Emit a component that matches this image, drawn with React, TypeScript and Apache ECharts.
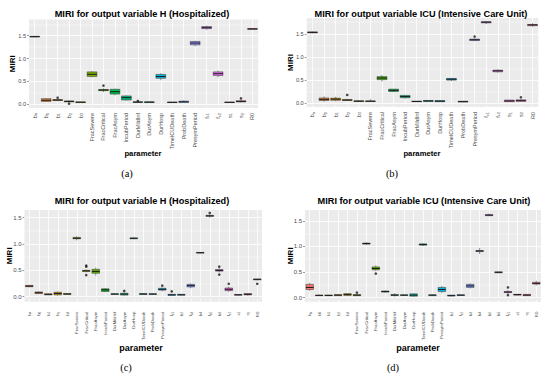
import React, { useEffect, useRef } from "react";
import * as echarts from "echarts";

// ---------- data ----------
const CATS_20 = [
  "b_a", "b_0", "b_1", "b_2", "b_3", "FracSevere", "FracCritical", "FracAsym", "IncubPeriod",
  "DurMildInf", "DurAsym", "DurHosp", "TimeICUDeath", "ProbDeath", "PresymPeriod",
  "f_c1", "f_c2", "s_1", "s_2", "R0",
];
const CATS_25 = [
  "b_a", "b_0", "b_1", "b_2", "b_3", "FracSevere", "FracCritical", "FracAsym", "IncubPeriod",
  "DurMildInf", "DurAsym", "DurHosp", "TimeICUDeath", "ProbDeath", "PresymPeriod",
  "f_c1", "f_c2", "f_c3", "f_c4", "f_c5", "f_c6", "f_c7", "s_1", "s_2", "R0",
];

// [min, Q1, median, Q3, max]
const BOX_A = [
  [1.465, 1.472, 1.48, 1.487, 1.495], [0.05, 0.065, 0.09, 0.125, 0.135], [0.07, 0.085, 0.095, 0.105, 0.12],
  [0.04, 0.055, 0.065, 0.075, 0.09], [0.035, 0.04, 0.047, 0.055, 0.06], [0.59, 0.61, 0.657, 0.71, 0.73],
  [0.27, 0.3, 0.314, 0.325, 0.35], [0.2, 0.225, 0.277, 0.33, 0.345], [0.08, 0.095, 0.146, 0.185, 0.2],
  [0.04, 0.045, 0.05, 0.055, 0.06], [0.035, 0.04, 0.05, 0.055, 0.06], [0.53, 0.57, 0.61, 0.655, 0.68],
  [0.035, 0.04, 0.045, 0.05, 0.055], [0.03, 0.045, 0.055, 0.07, 0.09], [1.27, 1.3, 1.34, 1.375, 1.39],
  [1.63, 1.655, 1.675, 1.7, 1.72], [0.59, 0.63, 0.67, 0.71, 0.74], [0.035, 0.04, 0.045, 0.05, 0.055],
  [0.04, 0.055, 0.065, 0.08, 0.1], [1.63, 1.64, 1.648, 1.655, 1.66],
];
const OUT_A = [[2, 0.146], [3, 0.015], [6, 0.41], [9, 0.075], [18, 0.13]];

const BOX_B = [
  [1.51, 1.52, 1.53, 1.54, 1.55], [0.03, 0.06, 0.085, 0.115, 0.15], [0.04, 0.065, 0.09, 0.11, 0.14],
  [0.05, 0.06, 0.07, 0.08, 0.1], [0.03, 0.04, 0.045, 0.055, 0.065], [0.03, 0.04, 0.045, 0.05, 0.09],
  [0.47, 0.51, 0.545, 0.575, 0.61], [0.24, 0.255, 0.28, 0.305, 0.31], [0.1, 0.12, 0.145, 0.17, 0.18],
  [0.03, 0.035, 0.04, 0.045, 0.05], [0.03, 0.04, 0.05, 0.06, 0.07], [0.03, 0.035, 0.045, 0.06, 0.065],
  [0.48, 0.5, 0.52, 0.535, 0.55], [0.02, 0.03, 0.035, 0.045, 0.05], [1.34, 1.355, 1.37, 1.385, 1.4],
  [1.71, 1.735, 1.75, 1.76, 1.78], [0.66, 0.68, 0.7, 0.715, 0.73], [0.03, 0.035, 0.05, 0.07, 0.075],
  [0.035, 0.045, 0.055, 0.075, 0.09], [1.65, 1.675, 1.69, 1.7, 1.73],
];
const OUT_B = [[3, 0.18], [14, 1.44], [18, 0.13]];

const BOX_C = [
  [0.18, 0.19, 0.2, 0.215, 0.225], [0.05, 0.06, 0.075, 0.09, 0.1], [0.03, 0.035, 0.045, 0.055, 0.06],
  [0.02, 0.035, 0.06, 0.085, 0.1], [0.04, 0.045, 0.05, 0.06, 0.065], [1.07, 1.1, 1.11, 1.125, 1.15],
  [0.46, 0.48, 0.49, 0.5, 0.52], [0.4, 0.445, 0.48, 0.52, 0.55], [0.085, 0.1, 0.13, 0.15, 0.16],
  [0.04, 0.045, 0.05, 0.055, 0.06], [0.02, 0.03, 0.05, 0.065, 0.08], [1.09, 1.1, 1.11, 1.115, 1.12],
  [0.035, 0.045, 0.05, 0.06, 0.065], [0.035, 0.045, 0.05, 0.055, 0.06], [0.1, 0.125, 0.14, 0.16, 0.17],
  [0.02, 0.025, 0.035, 0.045, 0.05], [0.025, 0.03, 0.035, 0.045, 0.05], [0.16, 0.185, 0.21, 0.235, 0.25],
  [0.82, 0.828, 0.835, 0.84, 0.845], [1.5, 1.525, 1.535, 1.545, 1.56], [0.46, 0.485, 0.5, 0.515, 0.54],
  [0.09, 0.115, 0.14, 0.165, 0.19], [0.025, 0.03, 0.035, 0.04, 0.045], [0.02, 0.035, 0.045, 0.06, 0.07],
  [0.31, 0.32, 0.33, 0.335, 0.34],
];
const OUT_C = [[6, 0.57], [6, 0.59], [6, 0.41], [10, 0.11], [14, 0.21], [15, 0.1], [19, 1.59], [20, 0.57], [20, 0.42], [21, 0.245], [24, 0.245]];

const BOX_D = [
  [0.13, 0.16, 0.2, 0.26, 0.29], [0.03, 0.04, 0.045, 0.05, 0.06], [0.03, 0.04, 0.045, 0.05, 0.055],
  [0.035, 0.04, 0.05, 0.06, 0.065], [0.03, 0.045, 0.06, 0.08, 0.09], [0.03, 0.04, 0.05, 0.06, 0.065],
  [1.03, 1.045, 1.055, 1.065, 1.08], [0.52, 0.545, 0.57, 0.6, 0.63], [0.1, 0.11, 0.12, 0.13, 0.14],
  [0.02, 0.045, 0.05, 0.06, 0.09], [0.04, 0.045, 0.05, 0.055, 0.065], [0.02, 0.03, 0.05, 0.075, 0.085],
  [1.01, 1.025, 1.035, 1.05, 1.06], [0.03, 0.04, 0.05, 0.055, 0.065], [0.09, 0.12, 0.16, 0.2, 0.23],
  [0.025, 0.035, 0.04, 0.05, 0.055], [0.04, 0.045, 0.05, 0.055, 0.06], [0.18, 0.2, 0.23, 0.26, 0.28],
  [0.85, 0.9, 0.91, 0.92, 0.97], [1.59, 1.6, 1.61, 1.62, 1.64], [0.48, 0.485, 0.495, 0.505, 0.51],
  [0.07, 0.1, 0.11, 0.12, 0.15], [0.045, 0.05, 0.06, 0.065, 0.07], [0.03, 0.04, 0.05, 0.065, 0.07],
  [0.24, 0.265, 0.28, 0.3, 0.33],
];
const OUT_D = [[5, 0.1], [7, 0.47], [21, 0.2], [21, 0.05]];

const Y_TICKS = [0, 0.5, 1.0, 1.5];
const Y_MINOR = [0.25, 0.75, 1.25, 1.75];
const Y_RANGE_A = [-0.079, 1.854];
const Y_RANGE_B = [-0.08, 1.84];
const Y_RANGE_C = [-0.095, 1.646];
const Y_RANGE_D = [-0.078, 1.71];

const TITLE_H = "MIRI for output variable H (Hospitalized)";
const TITLE_ICU = "MIRI for output variable ICU (Intensive Care Unit)";

// ---------- styling helpers ----------
const FONT = "'Liberation Sans', Arial, Helvetica, sans-serif";
const SERIF = "'Liberation Serif', 'Times New Roman', serif";
const TXT = "#4D4D4D";

function hclHex(h: number, c: number, l: number): string {
  const WX = 95.047, WY = 100.0, WZ = 108.883;
  const den = WX + 15 * WY + 3 * WZ;
  const un = (4 * WX) / den, vn = (9 * WY) / den;
  const hr = (h * Math.PI) / 180;
  const U = c * Math.cos(hr), V = c * Math.sin(hr);
  const Y = WY * (l > 7.999592 ? Math.pow((l + 16) / 116, 3) : l / 903.3);
  const u = U / (13 * l) + un, v = V / (13 * l) + vn;
  const X = (9 * Y * u) / (4 * v);
  const Z = -X / 3 - 5 * Y + (3 * Y) / v;
  const g = (x: number) => (x > 0.00304 ? 1.055 * Math.pow(x, 1 / 2.4) - 0.055 : 12.92 * x);
  const rgb = [
    (3.240479 * X - 1.53715 * Y - 0.498535 * Z) / WY,
    (-0.969256 * X + 1.875992 * Y + 0.041556 * Z) / WY,
    (0.055648 * X - 0.204043 * Y + 1.057311 * Z) / WY,
  ].map((x) => Math.round(Math.min(1, Math.max(0, g(x))) * 255));
  return "#" + rgb.map((x) => x.toString(16).padStart(2, "0")).join("");
}
function huePal(n: number): string[] {
  const out: string[] = [];
  for (let i = 0; i < n; i++) out.push(hclHex(15 + (i * 360) / n, 100, 65));
  return out;
}

const PANELS = [
  { cats: CATS_20, box: BOX_A, out: OUT_A, yr: Y_RANGE_A, left: 29, right: 258.2, top: 19.5, bottom: 108,
    title: TITLE_H, tx: 142, ty: 14, mx: 12.7, px: 143, py: 153, cap: "(a)", cx: 127, cy: 173, xfs: 5.5, xm: 5, yfs: 5.6, pfs: 7.7, bw: 0.85 },
  { cats: CATS_20, box: BOX_B, out: OUT_B, yr: Y_RANGE_B, left: 306.7, right: 538.3, top: 18, bottom: 107,
    title: TITLE_ICU, tx: 421, ty: 14, mx: 290, px: 422, py: 153, cap: "(b)", cx: 392, cy: 173, xfs: 5.5, xm: 5, yfs: 5.6, pfs: 7.7, bw: 0.85 },
  { cats: CATS_25, box: BOX_C, out: OUT_C, yr: Y_RANGE_C, left: 24.5, right: 262, top: 210, bottom: 301.7,
    title: TITLE_H, tx: 142, ty: 201, mx: 9.5, px: 141, py: 348, cap: "(c)", cx: 126, cy: 367, xfs: 4.3, xm: 10, yfs: 6, pfs: 9, bw: 0.8 },
  { cats: CATS_25, box: BOX_D, out: OUT_D, yr: Y_RANGE_D, left: 305, right: 541, top: 210, bottom: 301.7,
    title: TITLE_ICU, tx: 424, ty: 201, mx: 290, px: 418, py: 348, cap: "(d)", cx: 393, cy: 367, xfs: 4.3, xm: 10, yfs: 6, pfs: 9, bw: 0.8 },
];

function labelFmt(v: string): string {
  const k = v.indexOf("_");
  if (k < 0) return `{m|${v}}`;
  return `{m|${v.slice(0, k)}}{s|${v.slice(k + 1)}}`;
}

export default function App() {
  const ref = useRef<HTMLDivElement>(null);
  useEffect(() => {
    document.body.style.margin = "0";
    if (!ref.current) return;
    const chart = echarts.init(ref.current, undefined, { renderer: "svg" });
    const grid: any[] = [], xAxis: any[] = [], yAxis: any[] = [], series: any[] = [], graphic: any[] = [];
    PANELS.forEach((p, i) => {
      const pal = huePal(p.cats.length);
      grid.push({ left: p.left, top: p.top, width: p.right - p.left, height: p.bottom - p.top,
        show: true, backgroundColor: "#EBEBEB", borderWidth: 0 });
      xAxis.push({
        type: "category", gridIndex: i, data: p.cats, boundaryGap: true,
        axisLine: { show: false },
        axisTick: { show: true, alignWithLabel: true, length: 2, lineStyle: { color: "#333", width: 0.5 } },
        splitLine: { show: false },
        axisLabel: {
          interval: 0, rotate: 90, margin: p.xm, fontSize: p.xfs, color: TXT, fontFamily: FONT,
          formatter: labelFmt,
          rich: {
            m: { fontSize: p.xfs, color: TXT, fontFamily: FONT },
            s: { fontSize: p.xfs * 0.72, color: TXT, fontFamily: FONT, verticalAlign: "bottom" },
          },
        },
      });
      yAxis.push({
        type: "value", gridIndex: i, min: p.yr[0], max: p.yr[1],
        axisLine: { show: false }, splitLine: { show: false },
        axisTick: { show: true, length: 2, lineStyle: { color: "#333", width: 0.5 }, customValues: Y_TICKS },
        axisLabel: { customValues: Y_TICKS, formatter: (v: number) => v.toFixed(1), fontSize: p.yfs,
          color: TXT, fontFamily: FONT, margin: 3 },
      });
      const lines: any[] = [];
      p.cats.forEach((c) => lines.push({ xAxis: c, lineStyle: { color: "#fff", width: 0.8, type: "solid" } }));
      Y_TICKS.forEach((v) => lines.push({ yAxis: v, lineStyle: { color: "#fff", width: 0.8, type: "solid" } }));
      Y_MINOR.filter((v) => v < p.yr[1]).forEach((v) =>
        lines.push({ yAxis: v, lineStyle: { color: "#fff", width: 0.4, type: "solid" } }));
      series.push({
        type: "line", xAxisIndex: i, yAxisIndex: i, data: [], z: 1, silent: true, symbol: "none",
        markLine: { z: 1, silent: true, symbol: ["none", "none"], label: { show: false }, animation: false,
          emphasis: { disabled: true }, data: lines },
      });
      const bw = p.bw;
      series.push({
        type: "custom", xAxisIndex: i, yAxisIndex: i, z: 3, silent: true,
        encode: { x: 0, y: [1, 2, 3, 4, 5] },
        data: p.box.map((d, k) => [k, ...d]),
        renderItem: (params: any, api: any) => {
          const k = api.value(0);
          const v = [1, 2, 3, 4, 5].map((j) => api.value(j));
          const pts = v.map((val) => api.coord([k, val]));
          const cx = pts[0][0];
          const w = api.size([1, 0])[0] * bw;
          const stroke = "#333333";
          return {
            type: "group",
            children: [
              { type: "line", shape: { x1: cx, y1: pts[0][1], x2: cx, y2: pts[1][1] }, style: { stroke, lineWidth: 0.55 } },
              { type: "line", shape: { x1: cx, y1: pts[3][1], x2: cx, y2: pts[4][1] }, style: { stroke, lineWidth: 0.55 } },
              { type: "rect", shape: { x: cx - w / 2, y: pts[3][1], width: w, height: Math.max(0.3, pts[1][1] - pts[3][1]) },
                style: { fill: pal[k], stroke, lineWidth: 0.5 } },
              { type: "line", shape: { x1: cx - w / 2, y1: pts[2][1], x2: cx + w / 2, y2: pts[2][1] },
                style: { stroke: "#1a1a1a", lineWidth: 1.0 } },
            ],
          };
        },
      });
      series.push({
        type: "scatter", xAxisIndex: i, yAxisIndex: i, z: 4, silent: true, symbolSize: 2.6,
        itemStyle: { color: "#1a1a1a" },
        data: p.out.map(([k, v]) => [p.cats[k], v]),
      });
      graphic.push({ type: "text", x: p.tx, y: p.ty, style: { text: p.title, align: "center", verticalAlign: "middle",
        fontSize: 9.2, fontWeight: "bold", fontFamily: FONT, fill: "#000" } });
      graphic.push({ type: "text", x: p.mx, y: (p.top + p.bottom) / 2, rotation: Math.PI / 2,
        style: { text: "MIRI", align: "center", verticalAlign: "middle", fontSize: 8, fontWeight: "bold", fontFamily: FONT, fill: "#000" } });
      graphic.push({ type: "text", x: p.px, y: p.py, style: { text: "parameter", align: "center", verticalAlign: "middle",
        fontSize: p.pfs, fontWeight: "bold", fontFamily: FONT, fill: "#000" } });
      graphic.push({ type: "text", x: p.cx, y: p.cy, style: { text: p.cap, align: "center", verticalAlign: "middle",
        fontSize: 10.5, fontFamily: SERIF, fill: "#000" } });
    });
    chart.setOption({ animation: false, backgroundColor: "#fff", grid, xAxis, yAxis, series, graphic });
    return () => chart.dispose();
  }, []);
  return <div ref={ref} style={{ position: "fixed", left: 0, top: 0, width: 550, height: 377 }} />;
}
